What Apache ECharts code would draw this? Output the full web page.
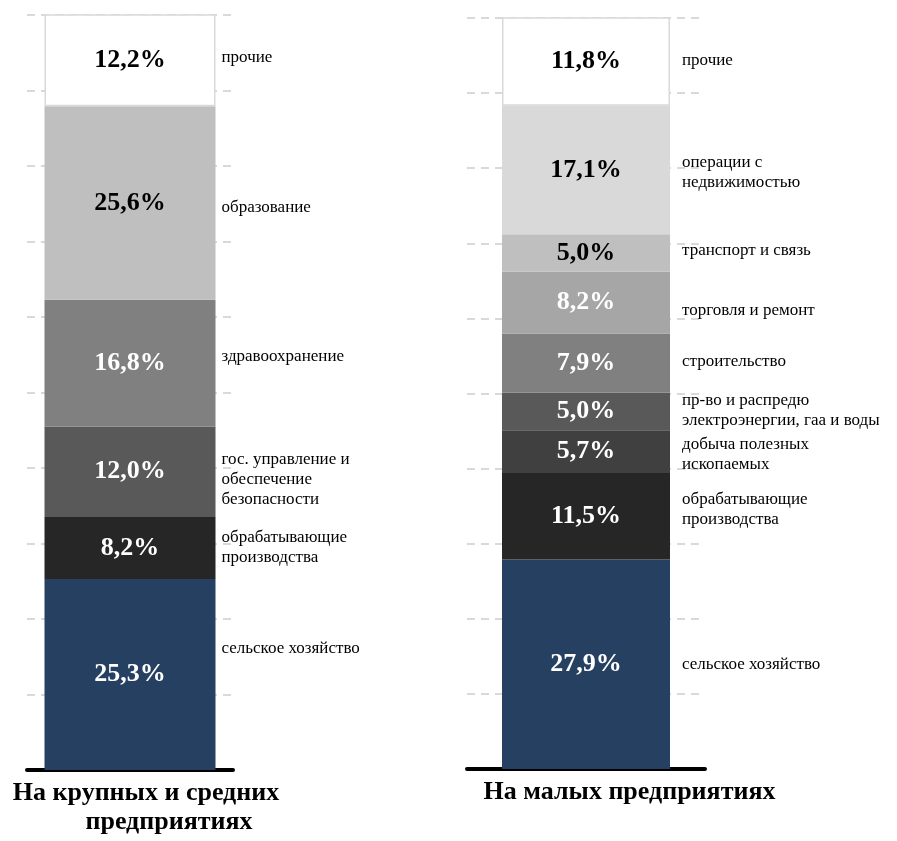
<!DOCTYPE html>
<html style="height: 100%">
<head>
<meta charset="utf-8">
<script type="text/javascript" src="https://cdn.jsdelivr.net/npm/echarts@6/dist/echarts.min.js"></script>
</head>
<body style="height: 100%; margin: 0; background: #fff">
	<div id="container" style="width: 897px; height: 841px;"></div>
	<script type="text/javascript">
		// данные: доли отраслей, снизу вверх
		var leftTitle = ['На крупных и средних', 'предприятиях'];
		var leftNames = ['сельское хозяйство', 'обрабатывающие\nпроизводства',
			'гос. управление и\nобеспечение\nбезопасности', 'здравоохранение',
			'образование', 'прочие'];
		var leftValues = [25.3, 8.2, 12.0, 16.8, 25.6, 12.2];

		var rightTitle = ['На малых предприятиях'];
		var rightNames = ['сельское хозяйство', 'обрабатывающие\nпроизводства',
			'добыча полезных\nископаемых', 'пр-во и распредю\nэлектроэнергии, гаа и воды',
			'строительство', 'торговля и ремонт', 'транспорт и связь',
			'операции с\nнедвижимостью', 'прочие'];
		var rightValues = [27.9, 11.5, 5.7, 5.0, 7.9, 8.2, 5.0, 17.1, 11.8];

		// оформление
		var leftColors = ['#264061', '#262626', '#595959', '#808080', '#bfbfbf', '#ffffff'];
		var rightColors = ['#264061', '#262626', '#404040', '#595959', '#808080', '#a6a6a6',
			'#bfbfbf', '#d9d9d9', '#ffffff'];
		var leftTextColors = ['#fff', '#fff', '#fff', '#fff', '#000', '#000'];
		var rightTextColors = ['#fff', '#fff', '#fff', '#fff', '#fff', '#fff', '#000', '#000', '#000'];
		var leftNameShift = [-26, 0, 8, -7, 5, -3];
		var rightNameShift = [0, -7, 3, -1, -2, 8, -3, 2, -1];

		var serif = '"Liberation Serif", "Times New Roman", serif';

		function pct(v) {
			return v.toFixed(1).replace('.', ',') + '%';
		}

		function makeSeries(idx, names, values, colors, textColors, shifts, barW, dist) {
			var list = [];
			for (var i = 0; i < values.length; i++) {
				list.push({
					type : 'bar',
					xAxisIndex : idx,
					yAxisIndex : idx,
					stack : 's' + idx,
					barWidth : barW,
					barGap : '-100%',
					data : [ values[i] ],
					itemStyle : {
						color : colors[i],
						borderColor : colors[i] == '#ffffff' ? '#d9d9d9' : colors[i],
						borderWidth : colors[i] == '#ffffff' ? 1.5 : 0
					},
					label : {
						show : true,
						position : 'inside',
						formatter : pct(values[i]),
						fontFamily : serif,
						fontWeight : 'bold',
						fontSize : 26,
						color : textColors[i]
					},
					silent : true
				});
				list.push({
					type : 'bar',
					xAxisIndex : idx,
					yAxisIndex : idx,
					stack : 'n' + idx,
					barWidth : barW,
					barGap : '-100%',
					data : [ values[i] ],
					itemStyle : { color : 'rgba(0,0,0,0)' },
					label : {
						show : true,
						position : 'right',
						distance : dist,
						offset : [ 0, shifts[i] ],
						formatter : names[i],
						fontFamily : serif,
						fontSize : 17,
						lineHeight : 20,
						color : '#000',
						align : 'left'
					},
					silent : true
				});
			}
			return list;
		}

		// подпись под столбцом: каждая строка со своим сдвигом вправо
		function xAx(idx, title, pads) {
			var rich = {};
			var parts = [];
			for (var i = 0; i < title.length; i++) {
				rich['t' + i] = {
					fontFamily : serif,
					fontWeight : 'bold',
					fontSize : 26,
					lineHeight : 29,
					color : '#000',
					padding : [ 0, 0, 0, pads[i] ]
				};
				parts.push('{t' + i + '|' + title[i] + '}');
			}
			return {
				type : 'category',
				gridIndex : idx,
				data : [ title.join(' ') ],
				axisLine : { lineStyle : { color : '#000', width : 4 } },
				axisTick : { show : false },
				axisLabel : {
					margin : 9,
					formatter : function() { return parts.join('\n'); },
					rich : rich
				}
			};
		}

		function yAx(idx) {
			return {
				type : 'value',
				gridIndex : idx,
				min : 0,
				max : 100,
				interval : 10,
				axisLabel : { show : false },
				axisLine : { show : false },
				axisTick : { show : false },
				splitLine : {
					lineStyle : { color : '#d9d9d9', width : 2, type : [ 8, 6 ] }
				}
			};
		}

		var myChart = echarts.init(document.getElementById('container'));
		var option = {
			animation : false,
			grid : [
				{ left : 27, top : 15, width : 206, height : 755, outerBoundsMode : 'none', containLabel : false },
				{ left : 467, top : 18, width : 238, height : 751, outerBoundsMode : 'none', containLabel : false }
			],
			xAxis : [ xAx(0, leftTitle, [ 32, 78 ]), xAx(1, rightTitle, [ 87 ]) ],
			yAxis : [ yAx(0), yAx(1) ],
			series : makeSeries(0, leftNames, leftValues, leftColors, leftTextColors, leftNameShift, 171, 6)
				.concat(makeSeries(1, rightNames, rightValues, rightColors, rightTextColors, rightNameShift, 168, 12))
		};
		myChart.setOption(option);
	</script>
</body>
</html>
